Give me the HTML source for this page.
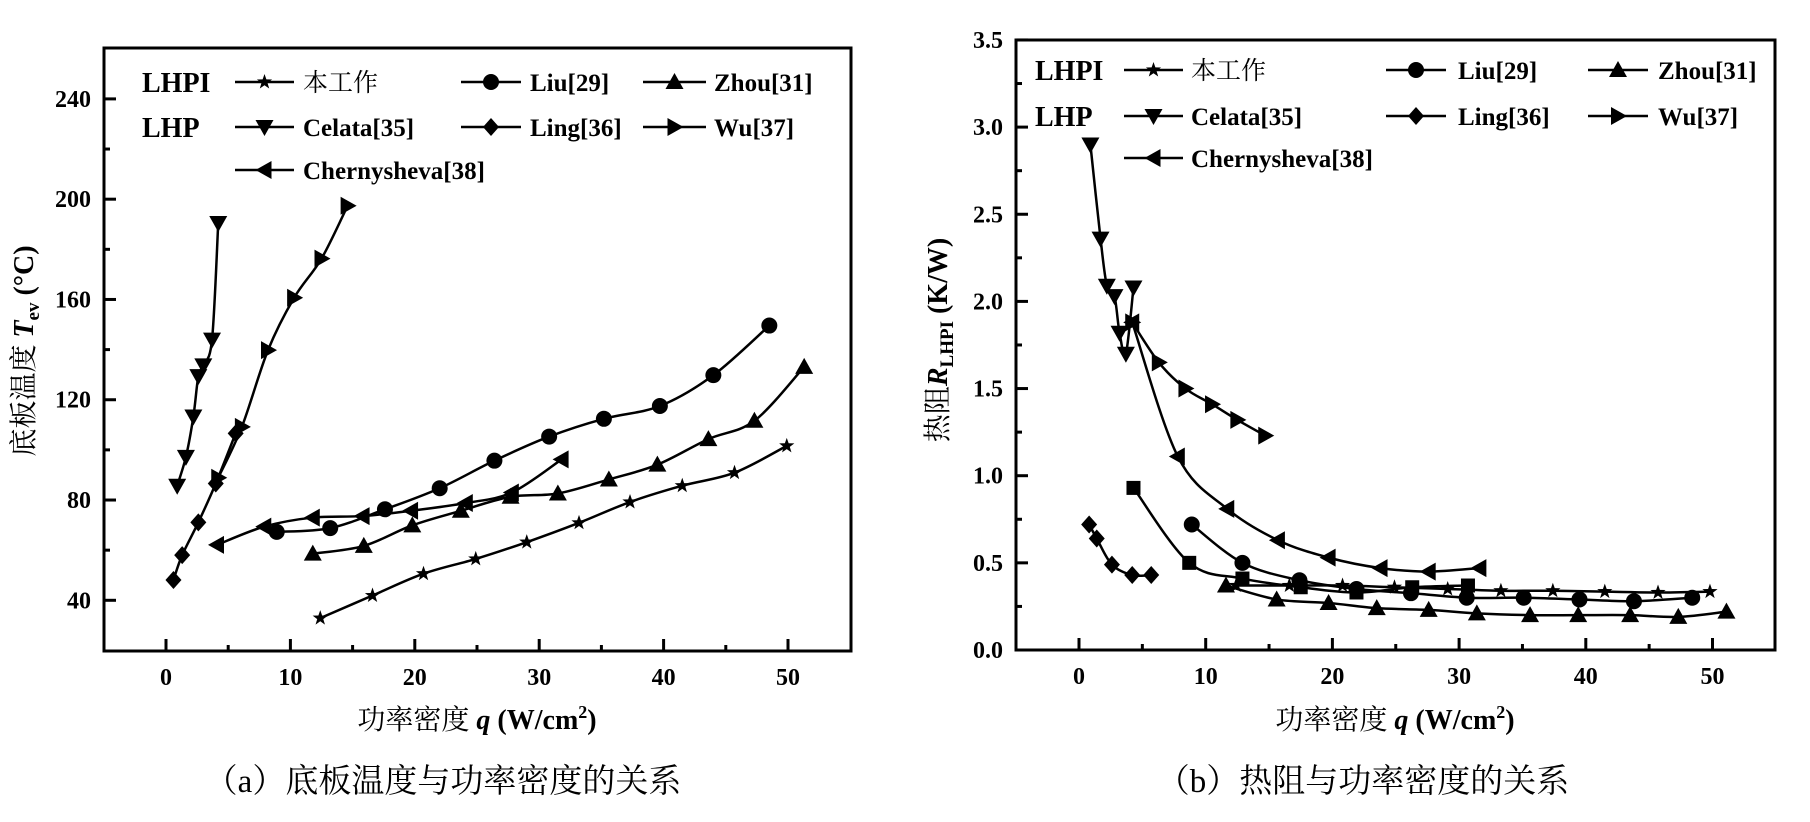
<!DOCTYPE html>
<html><head><meta charset="utf-8"><style>
body{margin:0;background:#fff}
svg{display:block}
text{font-family:"Liberation Serif","Noto Serif CJK SC",serif;fill:#000}
</style></head><body>
<svg id="fig" width="1810" height="822" viewBox="0 0 1810 822" xmlns="http://www.w3.org/2000/svg"></svg>
<script>
// ---- data: chart (a) base temperature vs power density ----
const aSelfQ=[12.4,16.6,20.7,24.9,29.0,33.2,37.3,41.5,45.7,49.9];
const aSelfT=[32.9,41.9,50.6,56.5,63.2,70.9,79.2,85.7,90.9,101.6];
const aLiuQ=[8.9,13.2,17.6,22.0,26.4,30.8,35.2,39.7,44.0,48.5];
const aLiuT=[67.3,68.8,76.3,84.7,95.7,105.3,112.4,117.5,129.8,149.6];
const aZhouQ=[11.8,15.9,19.8,23.7,27.7,31.5,35.6,39.5,43.6,47.3,51.3];
const aZhouT=[58.6,61.7,69.9,75.7,81.3,82.6,88.2,94.1,104.3,111.6,133.1];
const aCelQ=[0.9,1.6,2.2,2.6,3.0,3.7,4.2];
const aCelT=[85.7,97.2,113.3,129.4,133.7,144,190.5];
const aLingQ=[0.6,1.3,2.6,4.0,5.6];
const aLingT=[48.1,58,71.1,86.6,106.6];
const aWuQ=[4.2,6.1,8.2,10.3,12.5,14.6];
const aWuT=[88.9,109.2,139.8,160.7,176.3,197.4];
const aCheQ=[4.1,7.9,11.8,15.8,19.7,24.1,27.8,31.8];
const aCheT=[62.1,69.4,73,73.6,75.7,78.8,83,96.2];
const aYTicks=[40,80,120,160,200,240];
const aXTicks=[0,10,20,30,40,50];
// ---- data: chart (b) thermal resistance vs power density ----
const bSelfQ=[12.4,16.6,20.8,24.9,29.1,33.3,37.4,41.5,45.7,49.8];
const bSelfR=[0.37,0.37,0.37,0.36,0.35,0.34,0.34,0.335,0.33,0.335];
const bLiuQ=[8.9,12.9,17.4,21.9,26.2,30.6,35.1,39.5,43.8,48.4];
const bLiuR=[0.72,0.50,0.40,0.35,0.326,0.30,0.30,0.29,0.28,0.30];
const bZhouQ=[11.6,15.6,19.7,23.5,27.6,31.4,35.6,39.4,43.5,47.3,51.1];
const bZhouR=[0.37,0.29,0.27,0.24,0.23,0.21,0.20,0.20,0.20,0.19,0.22];
const bCelQ=[0.9,1.7,2.2,2.8,3.2,3.7,4.3];
const bCelR=[2.90,2.36,2.09,2.03,1.82,1.70,2.08];
const bLingQ=[0.8,1.4,2.6,4.2,5.7];
const bLingR=[0.72,0.64,0.49,0.43,0.43];
const bWuQ=[4.2,6.3,8.4,10.5,12.5,14.7];
const bWuR=[1.88,1.65,1.50,1.41,1.32,1.23];
const bCheQ=[4.2,7.8,11.7,15.7,19.7,23.8,27.6,31.6];
const bCheR=[1.88,1.11,0.81,0.63,0.53,0.47,0.45,0.47];
const bSqQ=[4.3,8.7,12.9,17.5,21.9,26.3,30.7];
const bSqR=[0.93,0.50,0.41,0.36,0.33,0.36,0.37];
const bYTicks=[0.0,0.5,1.0,1.5,2.0,2.5,3.0,3.5];
const bXTicks=[0,10,20,30,40,50];

const NS="http://www.w3.org/2000/svg";
const svg=document.getElementById('fig');
function mk(tag,attrs,parent){const e=document.createElementNS(NS,tag);for(const k in attrs)e.setAttribute(k,attrs[k]);(parent||svg).appendChild(e);return e;}

function marker(g,shape,x,y){
  const r=8;let e;
  if(shape==='circle'){e=mk('circle',{cx:x,cy:y,r:r},g);}
  else if(shape==='square'){e=mk('rect',{x:x-7,y:y-7,width:14,height:14},g);}
  else{
    let pts;
    if(shape==='up')pts=[[x,y-9],[x+9,y+7],[x-9,y+7]];
    else if(shape==='down')pts=[[x,y+9],[x+9,y-7],[x-9,y-7]];
    else if(shape==='right')pts=[[x+9,y],[x-7,y-9],[x-7,y+9]];
    else if(shape==='left')pts=[[x-9,y],[x+7,y-9],[x+7,y+9]];
    else if(shape==='diamond')pts=[[x,y-9],[x+8,y],[x,y+9],[x-8,y]];
    else {pts=[];for(let i=0;i<10;i++){const a=-Math.PI/2+i*Math.PI/5;const rr=i%2?3.2:8;pts.push([x+rr*Math.cos(a),y+rr*Math.sin(a)]);}}
    e=mk('polygon',{points:pts.map(p=>p.join(',')).join(' ')},g);
  }
  
  
  e.setAttribute('fill','#000');
}

function smoothPath(pts){
  if(pts.length<2)return '';
  let d='M'+pts[0][0]+','+pts[0][1];
  for(let i=0;i<pts.length-1;i++){
    const p0=pts[i-1]||pts[i],p1=pts[i],p2=pts[i+1],p3=pts[i+2]||p2;
    const c1=[p1[0]+(p2[0]-p0[0])/6,p1[1]+(p2[1]-p0[1])/6];
    const c2=[p2[0]-(p3[0]-p1[0])/6,p2[1]-(p3[1]-p1[1])/6];
    d+=' C'+c1.join(',')+' '+c2.join(',')+' '+p2.join(',');
  }
  return d;
}

function drawSeries(g,name,xs,ys,sx,sy,shape){
  const s=mk('g',{},g);
  
  
  const pts=xs.map((q,i)=>[sx(q),sy(ys[i])]);
  const p=mk('path',{d:smoothPath(pts),fill:'none',stroke:'#000','stroke-width':2.5},s);
  
  
  pts.forEach(pt=>marker(s,shape,pt[0],pt[1]));
}

function legendItem(g,x1,x2,y,shape,label,tx,name){
  const lg=mk('g',{},g);
  
  
  mk('line',{x1:x1,x2:x2,y1:y,y2:y,stroke:'#000','stroke-width':2.5},lg);
  marker(lg,shape,(x1+x2)/2,y);
  const t=mk('text',{x:tx,y:y+9,'font-size':label==='本工作'?25:25,'font-weight':label==='本工作'?'normal':'bold'},lg);
  t.textContent=label;
}

function frame(g,L,R,T,B,sx,sy,xt,yt,xMinor,yMinor,yFmt,labRight){
  mk('rect',{x:L,y:T,width:R-L,height:B-T,fill:'none',stroke:'#000','stroke-width':3},g);
  xt.forEach(v=>{const x=sx(v);mk('line',{x1:x,x2:x,y1:B,y2:B-12,stroke:'#000','stroke-width':3},g);
    const t=mk('text',{x:x,y:B+34,'font-size':24,'font-weight':'bold','text-anchor':'middle'},g);t.textContent=v;
    });
  xMinor.forEach(v=>{const x=sx(v);mk('line',{x1:x,x2:x,y1:B,y2:B-6,stroke:'#000','stroke-width':3},g);});
  yt.forEach(v=>{const y=sy(v);mk('line',{x1:L,x2:L+12,y1:y,y2:y,stroke:'#000','stroke-width':3},g);
    const t=mk('text',{x:labRight,y:y+8,'font-size':24,'font-weight':'bold','text-anchor':'end'},g);t.textContent=yFmt(v);
    });
  yMinor.forEach(v=>{const y=sy(v);mk('line',{x1:L,x2:L+6,y1:y,y2:y,stroke:'#000','stroke-width':3},g);});
}

// ---------- Chart A ----------
(function(){
  const g=mk('g',{});
  const L=104,R=851,T=48,B=651;
  const sx=q=>166+q*12.44, sy=v=>600.3-(v-40)*2.507;
  frame(g,L,R,T,B,sx,sy,aXTicks,aYTicks,[5,15,25,35,45],[60,100,140,180,220],v=>v,91);
  drawSeries(g,'series-this-work',aSelfQ,aSelfT,sx,sy,'star');
  drawSeries(g,'series-liu',aLiuQ,aLiuT,sx,sy,'circle');
  drawSeries(g,'series-zhou',aZhouQ,aZhouT,sx,sy,'up');
  drawSeries(g,'series-celata',aCelQ,aCelT,sx,sy,'down');
  drawSeries(g,'series-ling',aLingQ,aLingT,sx,sy,'diamond');
  drawSeries(g,'series-wu',aWuQ,aWuT,sx,sy,'right');
  drawSeries(g,'series-chernysheva',aCheQ,aCheT,sx,sy,'left');
  const lg=mk('g',{},g);
  let t=mk('text',{x:142,y:92,'font-size':28,'font-weight':'bold'},lg);t.textContent='LHPI';
  t=mk('text',{x:142,y:137,'font-size':28,'font-weight':'bold'},lg);t.textContent='LHP';
  legendItem(lg,235,294,82,'star','本工作',303,'legend-this-work');
  legendItem(lg,461,521,82,'circle','Liu[29]',530,'legend-liu');
  legendItem(lg,643,706,82,'up','Zhou[31]',714,'legend-zhou');
  legendItem(lg,235,294,127,'down','Celata[35]',303,'legend-celata');
  legendItem(lg,461,521,127,'diamond','Ling[36]',530,'legend-ling');
  legendItem(lg,643,706,127,'right','Wu[37]',714,'legend-wu');
  legendItem(lg,235,294,170,'left','Chernysheva[38]',303,'legend-chernysheva');
  t=mk('text',{x:477,y:729,'font-size':28,'text-anchor':'middle'},g);
  
  t.innerHTML='功率密度 <tspan font-weight="bold" font-style="italic">q</tspan> <tspan font-weight="bold">(W/cm</tspan><tspan font-weight="bold" font-size="18" dy="-11">2</tspan><tspan font-weight="bold" dy="11">)</tspan>';
  t=mk('text',{x:0,y:0,'font-size':28,'text-anchor':'middle',transform:'translate(33,351) rotate(-90)'},g);
  
  t.innerHTML='底板温度 <tspan font-weight="bold" font-style="italic">T</tspan><tspan font-weight="bold" font-size="19" dy="6">ev</tspan><tspan font-weight="bold" dy="-6"> (°C)</tspan>';
  t=mk('text',{x:443,y:792,'font-size':33,'text-anchor':'middle'},g);
  
  t.textContent='（a）底板温度与功率密度的关系';
})();

// ---------- Chart B ----------
(function(){
  const g=mk('g',{});
  const L=1016,R=1775,T=40,B=650;
  const sx=q=>1079+q*12.67, sy=v=>650-v*174.3;
  frame(g,L,R,T,B,sx,sy,bXTicks,bYTicks,[5,15,25,35,45],[0.25,0.75,1.25,1.75,2.25,2.75,3.25],v=>v.toFixed(1),1003);
  drawSeries(g,'series-this-work',bSelfQ,bSelfR,sx,sy,'star');
  drawSeries(g,'series-liu',bLiuQ,bLiuR,sx,sy,'circle');
  drawSeries(g,'series-zhou',bZhouQ,bZhouR,sx,sy,'up');
  drawSeries(g,'series-celata',bCelQ,bCelR,sx,sy,'down');
  drawSeries(g,'series-ling',bLingQ,bLingR,sx,sy,'diamond');
  drawSeries(g,'series-wu',bWuQ,bWuR,sx,sy,'right');
  drawSeries(g,'series-chernysheva',bCheQ,bCheR,sx,sy,'left');
  drawSeries(g,'series-squares',bSqQ,bSqR,sx,sy,'square');
  const lg=mk('g',{},g);
  let t=mk('text',{x:1035,y:80,'font-size':28,'font-weight':'bold'},lg);t.textContent='LHPI';
  t=mk('text',{x:1035,y:126,'font-size':28,'font-weight':'bold'},lg);t.textContent='LHP';
  legendItem(lg,1124,1183,70,'star','本工作',1191,'legend-this-work');
  legendItem(lg,1386,1446,70,'circle','Liu[29]',1458,'legend-liu');
  legendItem(lg,1588,1648,70,'up','Zhou[31]',1658,'legend-zhou');
  legendItem(lg,1124,1183,116,'down','Celata[35]',1191,'legend-celata');
  legendItem(lg,1386,1446,116,'diamond','Ling[36]',1458,'legend-ling');
  legendItem(lg,1588,1648,116,'right','Wu[37]',1658,'legend-wu');
  legendItem(lg,1124,1183,158,'left','Chernysheva[38]',1191,'legend-chernysheva');
  t=mk('text',{x:1395,y:729,'font-size':28,'text-anchor':'middle'},g);
  
  t.innerHTML='功率密度 <tspan font-weight="bold" font-style="italic">q</tspan> <tspan font-weight="bold">(W/cm</tspan><tspan font-weight="bold" font-size="18" dy="-11">2</tspan><tspan font-weight="bold" dy="11">)</tspan>';
  t=mk('text',{x:0,y:0,'font-size':28,'text-anchor':'middle',transform:'translate(947,340) rotate(-90)'},g);
  
  t.innerHTML='热阻<tspan font-weight="bold" font-style="italic">R</tspan><tspan font-weight="bold" font-size="19" dy="6">LHPI</tspan><tspan font-weight="bold" dy="-6"> (K/W)</tspan>';
  t=mk('text',{x:1363,y:792,'font-size':33,'text-anchor':'middle'},g);
  
  t.textContent='（b）热阻与功率密度的关系';
})();
</script>
</body></html>
